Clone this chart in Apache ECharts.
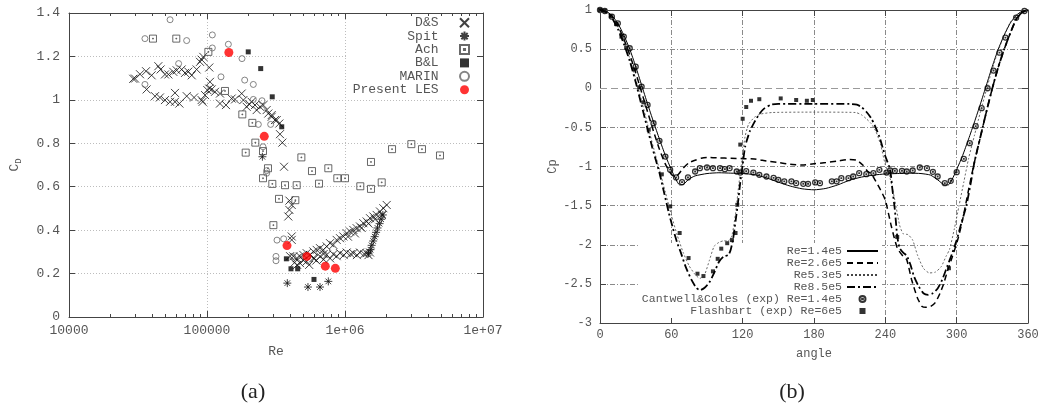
<!DOCTYPE html>
<html>
<head>
<meta charset="utf-8">
<script src="https://cdn.jsdelivr.net/npm/echarts@6/dist/echarts.min.js"></script>
<style>
  html, body { margin: 0; padding: 0; background: #fff; }
  #chart { width: 1044px; height: 407px; }
</style>
</head>
<body>
<div id="chart"></div>
<script>
// ============ (a) 阻力系数 CD vs Re ============
const reTicks = [1e4, 1e5, 1e6, 1e7];
const reTickLabels = ['10000', '100000', '1e+06', '1e+07'];
const reMinorTicks = [
  20000, 30000, 40000, 50000, 60000, 70000, 80000, 90000,
  200000, 300000, 400000, 500000, 600000, 700000, 800000, 900000,
  2000000, 3000000, 4000000, 5000000, 6000000, 7000000, 8000000, 9000000,
];
const cdTickLabels = ['0', '0.2', '0.4', '0.6', '0.8', '1', '1.2', '1.4'];

// [Re, CD]
const dsData = [
  [29200, 1.097], [30100, 1.098], [32700, 1.118], [36150, 1.132], [39700, 1.113], [44400, 1.155],
  [46100, 1.140], [49600, 1.117], [52500, 1.117], [57000, 1.129], [60300, 1.136], [65500, 1.140],
  [69300, 1.124], [73200, 1.130], [77500, 1.113], [84100, 1.140], [89000, 1.175], [91400, 1.185],
  [94000, 1.198], [103900, 1.149],
  [36500, 1.048], [42000, 1.017], [45600, 1.011], [49600, 0.999], [54000, 0.991], [58600, 0.991],
  [63100, 0.983], [58600, 1.032], [71300, 1.017], [80600, 1.011], [91400, 0.999], [93000, 0.991],
  [96800, 1.022], [100500, 1.045], [103900, 1.052], [105100, 1.083],
  [108100, 1.048], [114300, 1.037], [124200, 1.029], [124200, 0.983], [137300, 0.976], [150900, 1.006],
  [159600, 1.002], [178400, 1.029], [183400, 0.999], [193800, 0.968], [202600, 0.980], [210700, 0.991],
  [222800, 0.976], [229100, 0.953], [242100, 0.968], [255900, 0.976], [270500, 0.953], [278100, 0.937],
  [294100, 0.922], [310900, 0.907], [334300, 0.891], [294400, 0.930], [320000, 0.907],
  [338000, 0.842], [351600, 0.803], [361500, 0.692], [395300, 0.536], [411000, 0.516],
  [395300, 0.493], [388200, 0.463], [411000, 0.371], [411000, 0.355],
  // 上支
  [400000, 0.28], [422300, 0.279], [446500, 0.271], [472000, 0.279], [498900, 0.286], [527600, 0.294],
  [557800, 0.286], [589700, 0.302], [623400, 0.309], [659000, 0.317], [696700, 0.309], [736500, 0.325],
  [778700, 0.340], [823200, 0.332], [870200, 0.355], [920000, 0.363], [972500, 0.371], [1028000, 0.386],
  [1087000, 0.394], [1149000, 0.401], [1215000, 0.409], [1284000, 0.417], [1358000, 0.432],
  [1435000, 0.440], [1518000, 0.455], [1605000, 0.463], [1696000, 0.470], [1793000, 0.486],
  [1896000, 0.501], [2005000, 0.516],
  [500000, 0.26], [600000, 0.27], [700000, 0.29], [1050000, 0.37], [1180000, 0.385],
  [1320000, 0.41], [1480000, 0.43], [1650000, 0.45], [1850000, 0.47],
  // 平支
  [430000, 0.25], [450000, 0.24], [472000, 0.248], [527600, 0.256], [550000, 0.24], [589700, 0.271],
  [620000, 0.26], [659000, 0.279], [700000, 0.265], [736500, 0.286], [780000, 0.27], [823200, 0.289],
  [870000, 0.28], [920000, 0.294], [980000, 0.285], [1028000, 0.297], [1100000, 0.29], [1149000, 0.294],
  [1220000, 0.285], [1284000, 0.297], [1380000, 0.29], [1435000, 0.294], [1480000, 0.285], [1518000, 0.297],
];
const spitData = [
  [252000, 0.738], [382000, 0.156], [539000, 0.138], [659000, 0.138], [757000, 0.164],
  [1480000, 0.294], [1530000, 0.31], [1560000, 0.33], [1600000, 0.35], [1640000, 0.37],
  [1680000, 0.39], [1720000, 0.41], [1780000, 0.43], [1830000, 0.45], [1880000, 0.47],
];
const achData = [
  [40600, 1.282], [59900, 1.282], [102300, 1.221], [135000, 1.041], [180300, 0.933], [213000, 0.894],
  [224000, 0.803], [190700, 0.757], [254600, 0.764], [276700, 0.685], [254600, 0.639], [297400, 0.613],
  [367500, 0.607], [446500, 0.607], [332500, 0.544], [436600, 0.538], [302600, 0.423], [482800, 0.735],
  [576500, 0.672], [648200, 0.614], [757000, 0.685], [879700, 0.639], [1000000, 0.639], [1291000, 0.602],
  [1543000, 0.714], [1543000, 0.590], [1845000, 0.620], [2192000, 0.773], [3025000, 0.796],
  [3613000, 0.773], [4879000, 0.744],
];
const blData = [
  [199000, 1.221], [245000, 1.144], [297000, 1.014], [348000, 0.876], [376000, 0.268],
  [406000, 0.222], [454000, 0.222], [596000, 0.173],
];
const marinData = [
  [35500, 1.282], [54000, 1.369], [71200, 1.273], [62300, 1.167], [35500, 1.071], [109300, 1.299],
  [109300, 1.239], [142800, 1.256], [126300, 1.106], [179300, 1.190], [187500, 1.091], [216600, 1.071],
  [216600, 1.002], [250400, 0.996], [235500, 0.887], [289300, 0.887], [254600, 0.784], [270500, 0.674],
  [270500, 0.662], [321500, 0.354], [359400, 0.360], [316200, 0.279], [316200, 0.259], [415300, 0.279],
];
const lesData = [
  [144000, 1.218], [260000, 0.832], [380000, 0.329], [530000, 0.279], [720000, 0.234], [851000, 0.224],
];

// ============ (b) 压力系数 Cp vs angle ============
const cpTickLabels = ['-3', '-2.5', '-2', '-1.5', '-1', '-0.5', '0', '0.5', '1'];

// [angle, Cp]
const re14Curve = [
  [0, 1], [5, 0.985], [10, 0.93], [15, 0.83], [20, 0.68], [25, 0.5], [30, 0.28], [35, 0.04],
  [40, -0.2], [45, -0.43], [50, -0.65], [55, -0.86], [60, -1.04], [64, -1.17], [67, -1.235],
  [70, -1.23], [75, -1.16], [80, -1.12], [90, -1.09], [100, -1.08], [110, -1.085], [120, -1.09],
  [130, -1.105], [140, -1.145], [150, -1.2], [160, -1.25], [170, -1.285], [180, -1.298],
  [190, -1.28], [200, -1.235], [210, -1.175], [220, -1.135], [230, -1.11], [240, -1.095],
  [250, -1.09], [260, -1.085], [270, -1.09], [278, -1.11], [284, -1.17], [290, -1.235],
  [293, -1.235], [296, -1.17], [300, -1.04], [305, -0.86], [310, -0.65], [315, -0.43],
  [320, -0.2], [325, 0.04], [330, 0.28], [335, 0.5], [340, 0.68], [345, 0.83], [350, 0.93],
  [355, 0.985], [360, 1],
];
const re26Curve = [
  [0, 1], [5, 0.98], [10, 0.92], [15, 0.8], [20, 0.63], [25, 0.43], [30, 0.2], [35, -0.05],
  [40, -0.3], [45, -0.55], [50, -0.78], [55, -0.97], [60, -1.1], [63, -1.13], [66, -1.1],
  [70, -1.02], [75, -0.95], [80, -0.92], [85, -0.895], [90, -0.885], [100, -0.89], [110, -0.895],
  [120, -0.9], [130, -0.905], [140, -0.93], [150, -0.95], [160, -0.97], [170, -0.98], [180, -0.965],
  [190, -0.95], [200, -0.93], [210, -0.91], [216, -0.92], [221, -0.98], [225, -1.06], [228, -1.09],
  [232, -1.19], [236, -1.3], [240, -1.43], [245, -1.76], [250, -2.04], [255, -2.15], [258, -2.19],
  [262, -2.44], [267, -2.68], [271, -2.79], [274, -2.8], [278, -2.79], [282, -2.74], [286, -2.62],
  [289, -2.5], [292, -2.35], [296, -2.17], [301, -1.93], [305, -1.68], [310, -1.3], [315, -0.94],
  [320, -0.62], [325, -0.3], [330, 0.0], [335, 0.27], [340, 0.5], [345, 0.7], [350, 0.88],
  [355, 0.97], [360, 1],
];
const re53Curve = [
  [0, 1], [5, 0.975], [10, 0.91], [15, 0.78], [20, 0.6], [25, 0.38], [30, 0.12], [35, -0.16],
  [40, -0.46], [45, -0.76], [50, -1.04], [55, -1.33], [60, -1.62], [65, -1.88], [70, -2.1],
  [75, -2.27], [80, -2.38], [84, -2.43], [88, -2.38], [92, -2.2], [96, -2.02], [100, -1.97],
  [104, -1.95], [108, -1.95], [111, -1.88], [114, -1.6], [117, -1.2], [120, -0.85], [122, -0.62],
  [125, -0.46], [130, -0.37], [135, -0.33], [145, -0.31], [180, -0.305], [215, -0.31], [220, -0.34],
  [224, -0.39], [228, -0.45], [232, -0.55], [236, -0.72], [240, -0.98], [244, -1.15], [248, -1.43],
  [252, -1.75], [255, -1.86], [259, -1.87], [263, -1.94], [267, -2.13], [272, -2.3], [277, -2.36],
  [282, -2.35], [287, -2.28], [291, -2.15], [294, -2.06], [298, -1.8], [302, -1.5], [306, -1.2],
  [310, -0.9], [315, -0.6], [320, -0.3], [325, -0.02], [330, 0.25], [335, 0.48], [340, 0.68],
  [345, 0.84], [350, 0.93], [355, 0.98], [360, 1],
];
const re85Curve = [
  [0, 1], [5, 0.97], [10, 0.9], [15, 0.76], [20, 0.57], [25, 0.35], [30, 0.08], [35, -0.22],
  [40, -0.52], [44, -0.76], [47, -0.92], [50, -1.08], [54, -1.34], [58, -1.6], [61, -1.77],
  [65, -1.98], [68, -2.1], [72, -2.28], [77, -2.45], [81, -2.55], [84, -2.58], [88, -2.55],
  [92, -2.48], [96, -2.36], [100, -2.22], [104, -2.15], [108, -2.13], [110, -2.06], [112, -1.92],
  [114, -1.7], [116, -1.47], [118, -1.2], [120, -0.98], [122, -0.75], [126, -0.55], [130, -0.43],
  [134, -0.33], [138, -0.26], [144, -0.21], [150, -0.2], [180, -0.2], [210, -0.2], [216, -0.21],
  [220, -0.24], [224, -0.3], [228, -0.38], [231, -0.47], [235, -0.62], [238, -0.77], [240, -0.87],
  [244, -1.04], [246, -1.3], [248, -1.55], [250, -1.89], [252, -2.04], [255, -2.1], [258, -2.14],
  [261, -2.25], [264, -2.4], [268, -2.53], [272, -2.62], [276, -2.64], [280, -2.62], [284, -2.56],
  [288, -2.44], [292, -2.28], [296, -2.12], [300, -1.94], [304, -1.72], [308, -1.51], [312, -1.2],
  [315, -0.94], [320, -0.62], [325, -0.3], [330, 0.0], [335, 0.27], [340, 0.5], [345, 0.7],
  [350, 0.88], [355, 0.97], [360, 1],
];
const cantwellExp = [
  [0, 1], [4, 0.987], [10, 0.915], [15, 0.83], [20, 0.66], [25, 0.511], [30, 0.276], [35, 0.021],
  [40, -0.213], [45, -0.447], [50, -0.672], [55, -0.873], [59, -1.04], [64, -1.14], [69, -1.2],
  [74, -1.14], [80, -1.064], [84, -1.021], [90, -1.013], [95, -1.021], [101, -1.021], [105, -1.034],
  [109, -1.021], [115, -1.064], [118, -1.077], [123, -1.06], [129, -1.077], [134, -1.106],
  [140, -1.128], [146, -1.145], [150, -1.17], [155, -1.19], [161, -1.19], [165, -1.213],
  [171, -1.221], [175, -1.221], [181, -1.204], [185, -1.213], [195, -1.19], [199, -1.19],
  [203, -1.149], [209, -1.149], [213, -1.128], [218, -1.085], [224, -1.098], [230, -1.085],
  [235, -1.043], [241, -1.077], [244, -1.051], [248, -1.055], [254, -1.055], [258, -1.064],
  [263, -1.051], [269, -1.013], [275, -1.021], [280, -1.068], [284, -1.128], [290, -1.213],
  [295, -1.183], [300, -1.072], [306, -0.902], [311, -0.702], [316, -0.485], [321, -0.255],
  [326, 0.0], [331, 0.226], [336, 0.455], [341, 0.647], [350, 0.902], [357, 0.987],
];
const flashbartExp = [
  [0, 1], [4, 0.99], [9, 0.92], [13.5, 0.82], [18, 0.66], [22, 0.52], [29, 0.24], [33, 0.01],
  [36.5, -0.18], [41, -0.53], [52, -1.1], [59, -1.51], [67, -1.85], [74.5, -2.17], [82, -2.37],
  [87, -2.4], [95, -2.34], [99, -2.18], [102, -2.05], [107, -1.98], [111, -1.94], [114, -1.85],
  [115.5, -1.49], [118, -0.72], [120, -0.39], [123, -0.24], [127, -0.16], [134, -0.14],
  [152, -0.13], [165, -0.15], [174, -0.16], [179, -0.15], [250, -1.9], [293.5, -2.3],
];

const FONT = '"Liberation Mono", "DejaVu Sans Mono", monospace';
const TXT = '#555';
const BORDER = '#444';

const chart = echarts.init(document.getElementById('chart'), null, { renderer: 'canvas' });

function mirrorAxis(base, pos) {
  return Object.assign({}, base, {
    position: pos, z: 3,
    axisLine: { show: true, onZero: false, lineStyle: { color: BORDER, width: 1 } },
    axisTick: { show: true, inside: true, length: 6, lineStyle: { color: BORDER } },
    axisLabel: { show: false }, splitLine: { show: false }, name: '',
  });
}
function minorAxis(pos) {
  return {
    type: 'log', logBase: 10, gridIndex: 0, min: 1e4, max: 1e7, position: pos, z: 3,
    axisLine: { show: false, onZero: false },
    axisTick: { show: true, inside: true, length: 3, customValues: reMinorTicks, lineStyle: { color: BORDER } },
    axisLabel: { show: false }, splitLine: { show: false },
  };
}

const reAxis = { type: 'log', logBase: 10, gridIndex: 0, min: 1e4, max: 1e7 };
const cdAxis = { type: 'value', gridIndex: 0, min: 0, max: 1.4, interval: 0.2 };
const angAxis = { type: 'value', gridIndex: 1, min: 0, max: 360, interval: 60 };
const cpAxis = { type: 'value', gridIndex: 1, min: -3, max: 1, interval: 0.5 };

const leftGrid = { type: [1, 2], color: '#bdbdbd', width: 1 };
const rightGrid = { type: [5, 2, 1, 2], color: '#8a8a8a', width: 1 };

const xMark = 'path://M0,0L10,10M10,0L0,10';
const starMark = 'path://M0,5L10,5M5,0L5,10M1.5,1.5L8.5,8.5M8.5,1.5L1.5,8.5';
const boxDotMark = 'path://M0,0H10V10H0Z M4.4,4.4H5.6V5.6H4.4Z';
const ringDotMark = 'path://M5,0A5,5 0 1,1 5,10A5,5 0 1,1 5,0Z M4.4,4.4H5.6V5.6H4.4Z';
const squareMark = 'path://M0,0H10V10H0Z';
const noDot = { color: 'transparent', borderColor: 'transparent', borderWidth: 0 };

const option = {
  animation: false,
  backgroundColor: '#fff',
  textStyle: { fontFamily: FONT },
  grid: [
    { left: 69, top: 13, width: 414, height: 304, show: false },
    { left: 600, top: 10, width: 428, height: 313, show: false },
  ],
  xAxis: [
    Object.assign({}, reAxis, {
      position: 'bottom', z: 0,
      axisLine: { show: true, onZero: false, lineStyle: { color: BORDER, width: 1 } },
      axisTick: { show: true, inside: true, length: 6, lineStyle: { color: BORDER } },
      axisLabel: {
        color: TXT, fontFamily: FONT, fontSize: 13, margin: 7,
        formatter: v => reTickLabels[reTicks.findIndex(t => Math.abs(Math.log10(t) - Math.log10(v)) < 1e-6)] || '',
      },
      splitLine: { show: true, lineStyle: leftGrid },
      name: 'Re', nameLocation: 'middle', nameGap: 28,
      nameTextStyle: { color: TXT, fontFamily: FONT, fontSize: 13 },
    }),
    mirrorAxis(reAxis, 'top'),
    minorAxis('bottom'),
    minorAxis('top'),
    Object.assign({}, angAxis, {
      position: 'bottom', z: 0,
      axisLine: { show: true, onZero: false, lineStyle: { color: BORDER, width: 1 } },
      axisTick: { show: true, inside: true, length: 6, lineStyle: { color: BORDER } },
      axisLabel: { color: TXT, fontFamily: FONT, fontSize: 12, margin: 6 },
      splitLine: { show: true, lineStyle: rightGrid },
      name: 'angle', nameLocation: 'middle', nameGap: 25,
      nameTextStyle: { color: TXT, fontFamily: FONT, fontSize: 12 },
    }),
    mirrorAxis(angAxis, 'top'),
  ],
  yAxis: [
    Object.assign({}, cdAxis, {
      position: 'left', z: 0,
      axisLine: { show: true, onZero: false, lineStyle: { color: BORDER, width: 1 } },
      axisTick: { show: true, inside: true, length: 6, lineStyle: { color: BORDER } },
      axisLabel: {
        color: TXT, fontFamily: FONT, fontSize: 13, margin: 9,
        formatter: v => cdTickLabels[Math.round(v / 0.2)],
      },
      splitLine: { show: true, lineStyle: leftGrid },
      name: '{c|C}{d|D}', nameLocation: 'middle', nameGap: 46, nameRotate: 90,
      nameTextStyle: {
        color: TXT, fontFamily: FONT,
        rich: {
          c: { fontSize: 13, color: TXT, fontFamily: FONT },
          d: { fontSize: 9, color: TXT, fontFamily: FONT, padding: [8, 0, 0, 0] },
        },
      },
    }),
    mirrorAxis(cdAxis, 'right'),
    Object.assign({}, cpAxis, {
      position: 'left', z: 0,
      axisLine: { show: true, onZero: false, lineStyle: { color: BORDER, width: 1 } },
      axisTick: { show: true, inside: true, length: 6, lineStyle: { color: BORDER } },
      axisLabel: {
        color: TXT, fontFamily: FONT, fontSize: 12, margin: 8,
        formatter: v => cpTickLabels[Math.round((v + 3) / 0.5)],
      },
      splitLine: { show: true, lineStyle: rightGrid },
      name: 'Cp', nameLocation: 'middle', nameGap: 40, nameRotate: 90,
      nameTextStyle: { color: TXT, fontFamily: FONT, fontSize: 12 },
    }),
    mirrorAxis(cpAxis, 'right'),
  ],
  legend: [
    {
      data: ['D&S', 'Spit', 'Ach', 'B&L', 'MARIN', 'Present LES'],
      orient: 'vertical', align: 'right', right: 562, top: 14,
      itemWidth: 42, itemHeight: 9, itemGap: 0,
      padding: [2, 12, 1, 6], backgroundColor: '#fff', z: 1, selectedMode: false,
      textStyle: { fontFamily: FONT, fontSize: 13, color: TXT, lineHeight: 13.4 },
    },
    {
      data: ['Re=1.4e5', 'Re=2.6e5', 'Re5.3e5', 'Re8.5e5', 'Cantwell&Coles (exp) Re=1.4e5', 'Flashbart (exp) Re=6e5'],
      orient: 'vertical', align: 'right', right: 162, top: 243,
      itemWidth: 31, itemHeight: 6, itemGap: 0,
      padding: [2, 3, 1, 4], backgroundColor: '#fff', z: 1, selectedMode: false,
      textStyle: { fontFamily: FONT, fontSize: 11.5, color: TXT, lineHeight: 11.8 },
    },
  ],
  series: [
    { name: 'D&S', type: 'scatter', xAxisIndex: 0, yAxisIndex: 0, data: dsData,
      symbol: xMark, symbolSize: 8, itemStyle: { color: 'transparent', borderColor: '#111', borderWidth: 1 } },
    { name: 'Spit', type: 'scatter', xAxisIndex: 0, yAxisIndex: 0, data: spitData,
      symbol: starMark, symbolSize: 8, itemStyle: { color: 'transparent', borderColor: '#111', borderWidth: 1 } },
    { name: 'Ach', type: 'scatter', xAxisIndex: 0, yAxisIndex: 0, data: achData,
      symbol: boxDotMark, symbolSize: 7, itemStyle: { color: 'transparent', borderColor: '#444', borderWidth: 1 } },
    { name: 'B&L', type: 'scatter', xAxisIndex: 0, yAxisIndex: 0, data: blData,
      symbol: squareMark, symbolSize: 5, itemStyle: { color: '#000' } },
    { name: 'MARIN', type: 'scatter', xAxisIndex: 0, yAxisIndex: 0, data: marinData,
      symbol: 'circle', symbolSize: 6, itemStyle: { color: 'transparent', borderColor: '#666', borderWidth: 1 } },
    { name: 'Present LES', type: 'scatter', xAxisIndex: 0, yAxisIndex: 0, data: lesData,
      symbol: 'circle', symbolSize: 9, itemStyle: { color: '#ff0000' } },

    { name: 'Re=1.4e5', type: 'line', xAxisIndex: 4, yAxisIndex: 2, data: re14Curve,
      symbol: 'none', smooth: 0.2, itemStyle: noDot, lineStyle: { color: '#000', width: 1, type: 'solid' },
      markLine: {
        silent: true, symbol: 'none', z: 1, label: { show: false },
        data: [
          { yAxis: 0, lineStyle: { color: '#fff', type: 'solid', width: 2 } },
          { yAxis: 0, lineStyle: { color: '#9a9a9a', type: [7, 4], width: 1 } },
        ],
      } },
    { name: 'Re=2.6e5', type: 'line', xAxisIndex: 4, yAxisIndex: 2, data: re26Curve,
      symbol: 'none', smooth: 0.2, itemStyle: noDot, lineStyle: { color: '#000', width: 1.5, type: [6, 4] } },
    { name: 'Re5.3e5', type: 'line', xAxisIndex: 4, yAxisIndex: 2, data: re53Curve,
      symbol: 'none', smooth: 0.2, itemStyle: noDot, lineStyle: { color: '#444', width: 0.8, type: [2, 2] } },
    { name: 'Re8.5e5', type: 'line', xAxisIndex: 4, yAxisIndex: 2, data: re85Curve,
      symbol: 'none', smooth: 0.2, itemStyle: noDot, lineStyle: { color: '#000', width: 1.8, type: [8, 3, 2, 3] } },
    { name: 'Cantwell&Coles (exp) Re=1.4e5', type: 'scatter', xAxisIndex: 4, yAxisIndex: 2, data: cantwellExp,
      symbol: ringDotMark, symbolSize: 5, itemStyle: { color: 'transparent', borderColor: '#000', borderWidth: 1.3 } },
    { name: 'Flashbart (exp) Re=6e5', type: 'scatter', xAxisIndex: 4, yAxisIndex: 2, data: flashbartExp,
      symbol: squareMark, symbolSize: 4, itemStyle: { color: '#000' } },
  ],
  graphic: [
    { type: 'text', x: 253, y: 392, style: { text: '(a)', fontSize: 22, fontFamily: '"Liberation Serif", "DejaVu Serif", serif', fill: '#222', align: 'center', verticalAlign: 'middle' } },
    { type: 'text', x: 792, y: 392, style: { text: '(b)', fontSize: 22, fontFamily: '"Liberation Serif", "DejaVu Serif", serif', fill: '#222', align: 'center', verticalAlign: 'middle' } },
  ],
};

chart.setOption(option);
</script>
</body>
</html>
